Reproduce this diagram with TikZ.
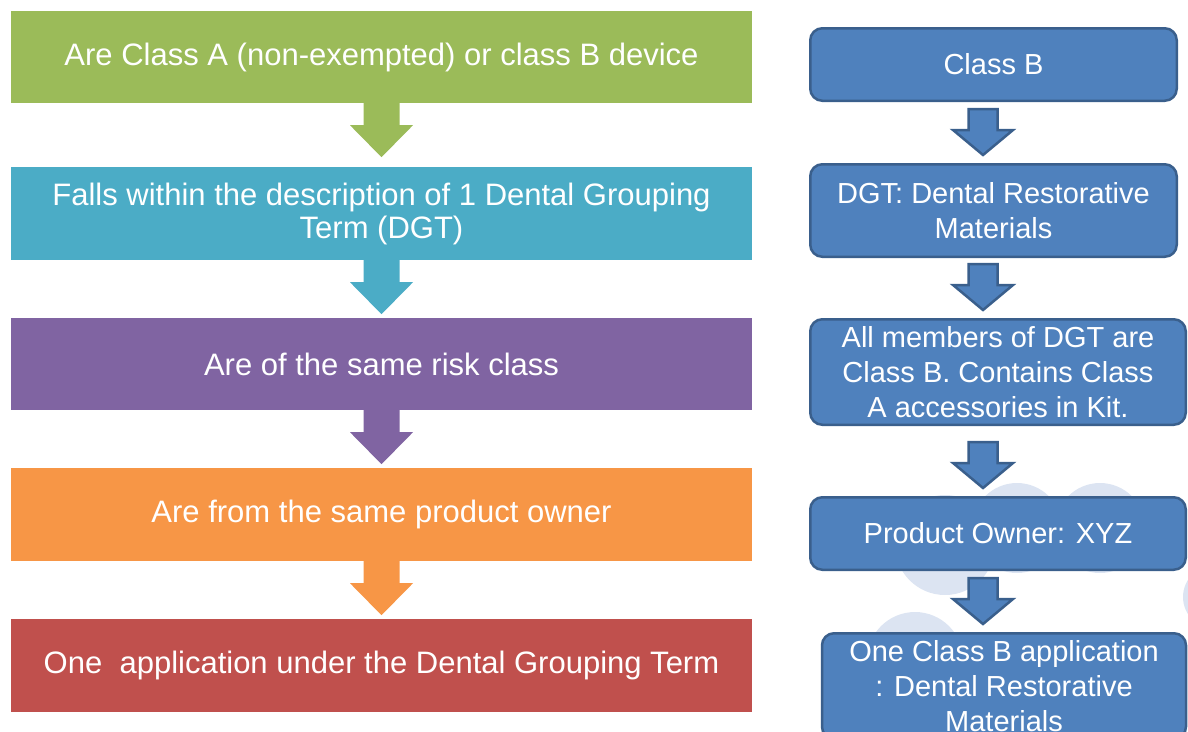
\documentclass[tikz,border=0pt]{standalone}
\usepackage{fontspec}
\setmainfont{Liberation Sans}
\usetikzlibrary{calc}
\definecolor{cgreen}{HTML}{9BBB59}
\definecolor{cteal}{HTML}{4BACC6}
\definecolor{cpurple}{HTML}{8064A2}
\definecolor{corange}{HTML}{F79646}
\definecolor{cred}{HTML}{C0504D}
\definecolor{cblue}{HTML}{4F81BD}
\definecolor{cborder}{HTML}{3A5F8C}
\definecolor{cbubble}{HTML}{DCE4F2}
\begin{document}
\begin{tikzpicture}[x=1pt,y=-1pt,
  lbox/.style={rectangle, minimum width=741pt, inner sep=0pt, text=white, align=center,
    font=\fontsize{31}{33}\selectfont},
  rbox/.style={rectangle, rounded corners=12pt, draw=cborder, line width=2.5pt, fill=cblue,
    text=white, align=center, inner sep=0pt, font=\fontsize{29}{35}\selectfont},
  bubble/.style={fill=cbubble, draw=none}]
\useasboundingbox (0,0) rectangle (1188,731);
\clip (0,0) rectangle (1188,731);

% background bubbles
\fill[bubble] (1017,528) circle (45);
\fill[bubble] (1100,528) circle (45);
\fill[bubble] (945,545) circle (50);
\fill[bubble] (915,660) circle (48);
\fill[bubble] (1215,597) circle (32);

% left column
\node[lbox, fill=cgreen,  minimum height=92pt] (l1) at (381.5,57)    {Are Class A (non-exempted) or class B device};
\node[lbox, fill=cteal,   minimum height=93pt] (l2) at (381.5,213.5) {Falls within the description of 1 Dental Grouping\\Term (DGT)};
\node[lbox, fill=cpurple, minimum height=92pt] (l3) at (381.5,364)   {Are of the same risk class};
\node[lbox, fill=corange, minimum height=93pt] (l4) at (381.5,514.5) {Are from the same product owner};
\node[lbox, fill=cred,    minimum height=93pt] (l5) at (381.5,665.5) {One\ \ application under the Dental Grouping Term};

\foreach \a/\b/\c in {l1/l2/cgreen, l2/l3/cteal, l3/l4/cpurple, l4/l5/corange}{
  \fill[\c] ($(\a.south)+(-18,-1)$) -- ++(0,23) -- ++(-13.5,0) -- ++(31.5,32) -- ++(31.5,-32)
     -- ++(-13.5,0) -- ++(0,-23) -- cycle;
}

% right column
\coordinate (ax) at (983,0);
\node[rbox, minimum width=366.5pt, minimum height=72.5pt] (r1) at (993.5,64.5) {Class B};
\node[rbox, minimum width=366.5pt, minimum height=92.5pt] (r2) at (993.5,210.5) {DGT: Dental Restorative\\Materials};
\node[rbox, minimum width=375.5pt, minimum height=105.5pt] (r3) at (998,372) {All members of DGT are\\Class B. Contains Class\\A accessories in Kit.};
\node[rbox, minimum width=375.5pt, minimum height=72.5pt] (r4) at (998,533.5) {Product Owner: XYZ};
\node[rbox, minimum width=364pt, minimum height=105.5pt] (r5) at (1004,686) {One Class B application\\: Dental Restorative\\Materials};

\foreach \a/\b in {r1/r2, r2/r3, r3/r4, r4/r5}{
  \filldraw[fill=cblue, draw=cborder, line width=2.5pt, line join=miter]
    ($(\b.north -| ax)+(0,-8)$) -- ++(-30,-25) -- ++(15.5,0) -- ++(0,-21) -- ++(29,0)
     -- ++(0,21) -- ++(15.5,0) -- cycle;
}
\end{tikzpicture}
\end{document}
